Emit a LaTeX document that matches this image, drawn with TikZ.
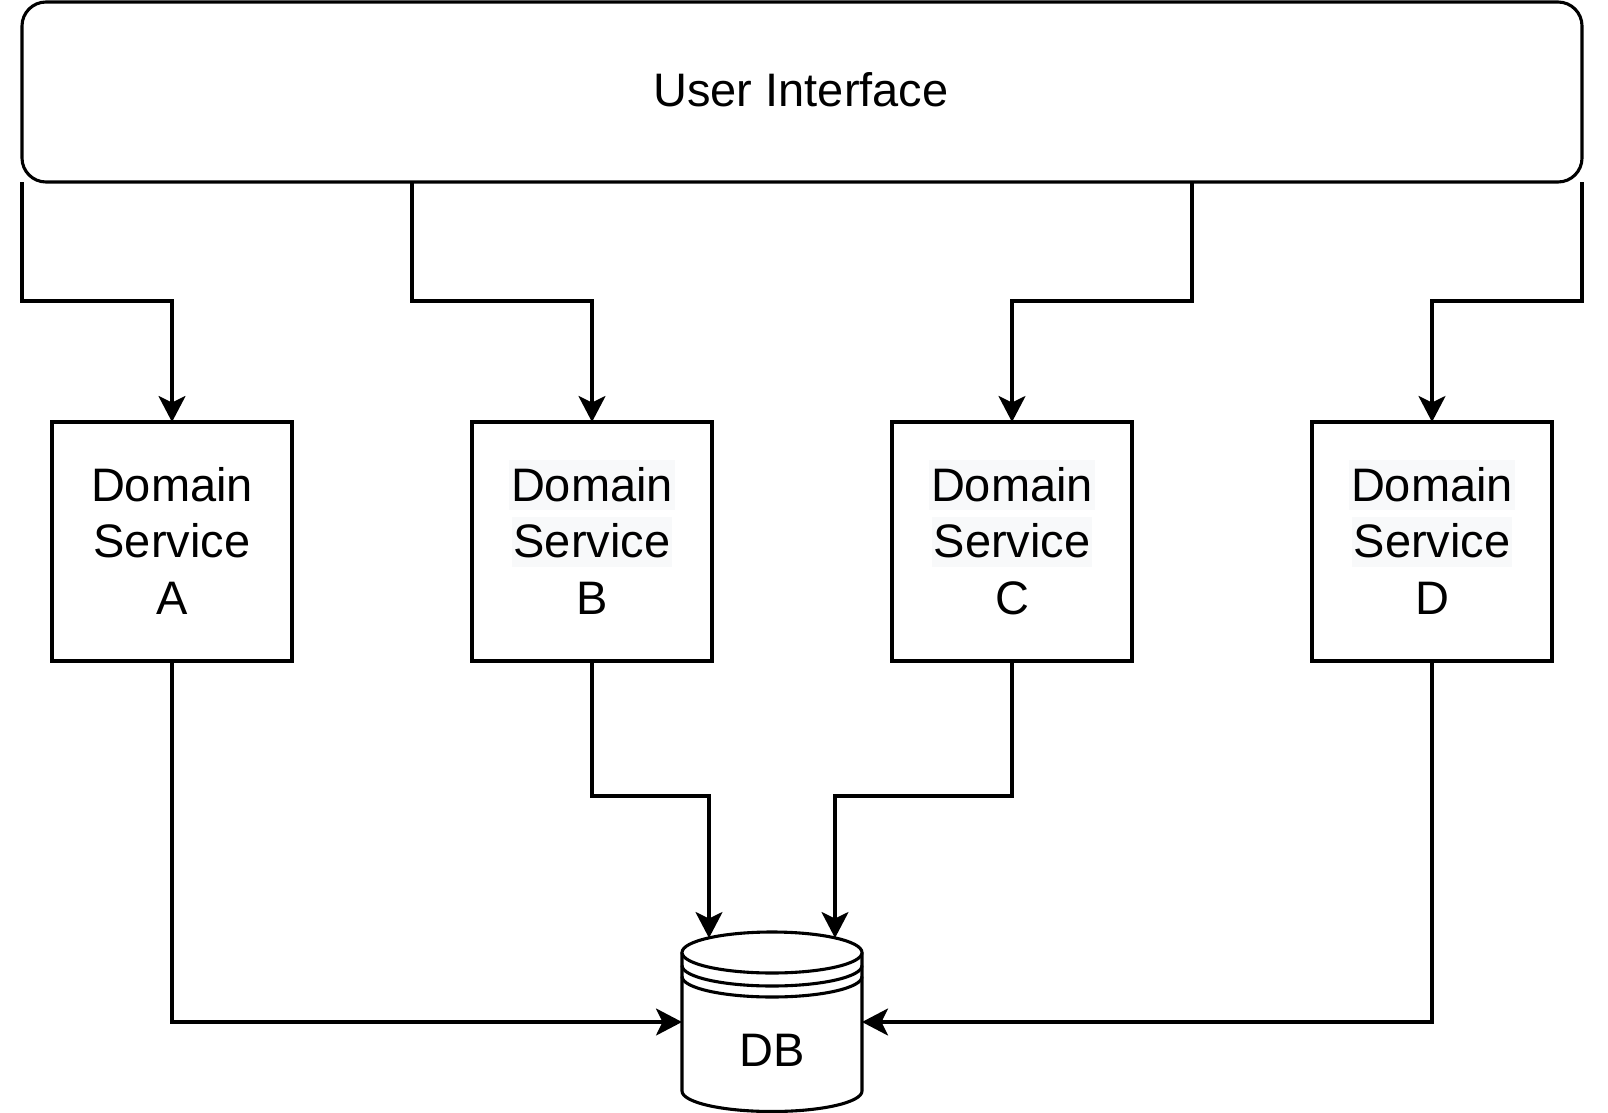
\documentclass[tikz,border=0pt]{standalone}
\usepackage{fontspec}
\setmainfont{Liberation Sans}
\usetikzlibrary{arrows.meta,calc}
\definecolor{hlc}{HTML}{F8F9FA}
\newcommand\hltx[1]{{\setlength{\fboxsep}{0pt}\colorbox{hlc}{\hspace{2pt}\rule[-9pt]{0pt}{50pt}#1\hspace{2pt}}}}
\newcommand\pltx[1]{\rule[-9pt]{0pt}{50pt}#1}
\begin{document}
\begin{tikzpicture}[x=1pt,y=-1pt, line width=3.1pt,
  every node/.style={outer sep=0pt, inner sep=0pt, font=\fontsize{47}{56.5}\selectfont},
  uibox/.style={draw, rounded corners=24pt, minimum width=1560pt, minimum height=180pt},
  svc/.style={draw, minimum width=240pt, minimum height=239pt, align=center},
  arr/.style={-{Stealth[length=26pt,width=27pt,inset=6.5pt]}, line join=miter},
  cyl/.style={draw, fill=white}]
\useasboundingbox (0,0) rectangle (1608,1113);
% user interface
\node[uibox] (ui) at (802,92) {};
\node[anchor=base] (uit) at (801,106.5) {User Interface};
% services
\node[svc] (sa) at (172,541.5) {\pltx{Domain}\\\pltx{Service}\\\pltx{A}};
\node[svc] (sb) at (592,541.5) {\hltx{Domain}\\\hltx{Service}\\\pltx{B}};
\node[svc] (sc) at (1012,541.5) {\hltx{Domain}\\\hltx{Service}\\\pltx{C}};
\node[svc] (sd) at (1432,541.5) {\hltx{Domain}\\\hltx{Service}\\\pltx{D}};
% database cylinder
\node[minimum width=180pt, minimum height=180pt] (db) at (772,1022) {};
\draw[cyl] (682,952.5) -- (682,1091) arc[start angle=180,end angle=0,x radius=90,y radius=20.5] -- (862,952.5);
\draw[cyl] (772,952.5) ellipse [x radius=90, y radius=20.5];
\draw (682,965.5) arc[start angle=180,end angle=0,x radius=90,y radius=20.5];
\draw (682,976.5) arc[start angle=180,end angle=0,x radius=90,y radius=20.5];
\node[anchor=base] (dbt) at (772,1066) {DB};
% helper coordinates
\coordinate (lv1) at (0,301);
\coordinate (lv2) at (0,796);
\coordinate (xb) at (412,0);
\coordinate (xc) at (1192,0);
\coordinate (dbB) at (709,938);
\coordinate (dbC) at (835,938);
% connectors
\draw[arr] (ui.south west) -- (ui.south west |- lv1) -| (sa.north);
\draw[arr] (ui.south -| xb) -- (xb |- lv1) -| (sb.north);
\draw[arr] (ui.south -| xc) -- (xc |- lv1) -| (sc.north);
\draw[arr] (ui.south east) -- (ui.south east |- lv1) -| (sd.north);
\draw[arr] (sa.south) |- (db.west);
\draw[arr] (sd.south) |- (db.east);
\draw[arr] (sb.south) -- (sb.south |- lv2) -| (dbB);
\draw[arr] (sc.south) -- (sc.south |- lv2) -| (dbC);
\end{tikzpicture}
\end{document}
